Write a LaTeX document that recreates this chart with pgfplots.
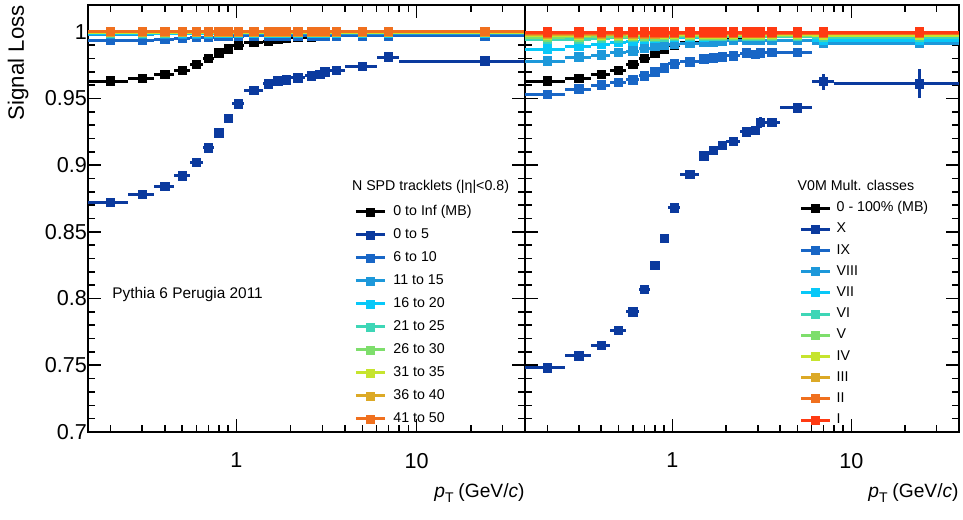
\documentclass[border=0pt]{standalone}
\usepackage{pgfplots}
\pgfplotsset{compat=1.18}
\usepackage{pgfplotstable}
\usepackage{fontspec}
\setmainfont{Liberation Sans}

\definecolor{cA}{HTML}{0B3A9E}
\definecolor{cB}{HTML}{1866C6}
\definecolor{cC}{HTML}{1D98DA}
\definecolor{cD}{HTML}{08C8F8}
\definecolor{cE}{HTML}{3ED6B6}
\definecolor{cF}{HTML}{7EDE6C}
\definecolor{cG}{HTML}{C6E42E}
\definecolor{cH}{HTML}{DCA926}
\definecolor{cI}{HTML}{F0701E}
\definecolor{cJ}{HTML}{FF3A12}

\pgfplotstableread{
x     exm   exp   mb     n05    e05    n610   n1115  n1620  n2125  n2630  n3135  n3640  n4150
0.2   0.05  0.05  0.963  0.872  0.0008 0.9933 0.9982 0.9989 0.9992 0.9994 0.9996 0.9998 1.0000
0.3   0.05  0.05  0.965  0.878  0.0008 0.9933 0.9982 0.9989 0.9992 0.9994 0.9996 0.9998 1.0000
0.4   0.05  0.05  0.968  0.884  0.0008 0.9942 0.9983 0.9989 0.9992 0.9994 0.9996 0.9998 1.0000
0.5   0.05  0.05  0.971  0.892  0.0008 0.9950 0.9983 0.9990 0.9993 0.9995 0.9997 0.9998 1.0000
0.6   0.05  0.05  0.9755 0.902  0.0008 0.9955 0.9984 0.9990 0.9993 0.9995 0.9997 0.9998 1.0000
0.7   0.05  0.05  0.980  0.913  0.0008 0.9960 0.9984 0.9990 0.9993 0.9995 0.9997 0.9998 1.0000
0.8   0.05  0.05  0.984  0.924  0.0008 0.9963 0.9985 0.9990 0.9993 0.9995 0.9997 0.9998 1.0000
0.9   0.05  0.05  0.987  0.935  0.0008 0.9965 0.9985 0.9990 0.9993 0.9995 0.9997 0.9998 1.0000
1.025 0.075 0.075 0.990  0.946  0.0008 0.9967 0.9985 0.9991 0.9993 0.9995 0.9997 0.9998 1.0000
1.25  0.15  0.15  0.992  0.956  0.0008 0.9968 0.9985 0.9991 0.9993 0.9995 0.9997 0.9998 1.0000
1.5   0.1   0.1   0.993  0.961  0.0008 0.9969 0.9986 0.9991 0.9994 0.9995 0.9997 0.9998 1.0000
1.7   0.1   0.1   0.9943 0.963  0.0008 0.9969 0.9986 0.9991 0.9994 0.9995 0.9997 0.9998 1.0000
1.9   0.1   0.1   0.9948 0.964  0.0008 0.9969 0.9986 0.9991 0.9994 0.9995 0.9997 0.9998 1.0000
2.2   0.2   0.2   0.9955 0.9655 0.0008 0.9969 0.9986 0.9991 0.9994 0.9995 0.9997 0.9998 1.0000
2.6   0.2   0.2   0.9960 0.967  0.0010 0.9969 0.9986 0.9991 0.9994 0.9995 0.9997 0.9998 1.0000
2.9   0.1   0.1   0.9963 0.968  0.0012 0.9969 0.9986 0.9991 0.9994 0.9995 0.9997 0.9998 1.0000
3.1   0.1   0.1   0.9965 0.970  0.0012 0.9969 0.9986 0.9991 0.9994 0.9995 0.9997 0.9998 1.0000
3.6   0.4   0.4   0.9968 0.971  0.0010 0.9969 0.9986 0.9991 0.9994 0.9995 0.9997 0.9998 1.0000
5     1     1     0.9970 0.974  0.0012 0.9968 0.9986 0.9991 0.9994 0.9995 0.9997 0.9998 1.0000
7     1     1     0.9970 0.981  0.0020 0.9968 0.9986 0.9991 0.9994 0.9995 0.9997 0.9998 1.0000
24    16    16    0.9970 0.978  0.0040 0.9968 0.9986 0.9991 0.9994 0.9995 0.9997 0.9998 1.0000
}\leftdata

\pgfplotstableread{
x     exm   exp   mb     vX     eX     vIX    vVIII  vVII   vVI    vV     vIV    vIII   vII    vI
0.2   0.05  0.05  0.963  0.748  0.0010 0.953  0.978  0.987  0.994  0.996  0.9975 0.998  0.999  0.9997
0.3   0.05  0.05  0.965  0.757  0.0010 0.957  0.981  0.989  0.9945 0.9962 0.9975 0.998  0.999  0.9997
0.4   0.05  0.05  0.968  0.765  0.0010 0.960  0.9825 0.9905 0.995  0.9964 0.9976 0.9981 0.999  0.9997
0.5   0.05  0.05  0.971  0.776  0.0010 0.962  0.9845 0.992  0.9953 0.9966 0.9977 0.9982 0.999  0.9997
0.6   0.05  0.05  0.9755 0.790  0.0010 0.964  0.9855 0.993  0.9956 0.9967 0.9977 0.9983 0.999  0.9997
0.7   0.05  0.05  0.980  0.807  0.0010 0.967  0.9876 0.994  0.9958 0.9968 0.9978 0.9984 0.999  0.9997
0.8   0.05  0.05  0.984  0.825  0.0010 0.970  0.9888 0.995  0.996  0.9969 0.9978 0.9984 0.999  0.9997
0.9   0.05  0.05  0.987  0.845  0.0010 0.973  0.9896 0.9955 0.9962 0.997  0.9979 0.9985 0.999  0.9997
1.025 0.075 0.075 0.990  0.868  0.0010 0.976  0.9906 0.9958 0.9964 0.997  0.9979 0.9985 0.999  0.9997
1.25  0.15  0.15  0.992  0.893  0.0010 0.9775 0.9913 0.996  0.9965 0.997  0.998  0.9985 0.999  0.9997
1.5   0.1   0.1   0.993  0.907  0.0010 0.9795 0.9918 0.9962 0.9966 0.9972 0.998  0.9986 0.999  0.9997
1.7   0.1   0.1   0.9943 0.911  0.0015 0.9805 0.9923 0.9963 0.9966 0.9972 0.998  0.9986 0.999  0.9997
1.9   0.1   0.1   0.9948 0.915  0.0015 0.981  0.9928 0.9964 0.9966 0.9972 0.998  0.9986 0.999  0.9997
2.2   0.2   0.2   0.9955 0.918  0.0015 0.982  0.9933 0.9964 0.9966 0.9972 0.998  0.9986 0.999  0.9997
2.6   0.2   0.2   0.9960 0.925  0.0020 0.984  0.9935 0.9964 0.9966 0.9972 0.998  0.9986 0.999  0.9997
2.9   0.1   0.1   0.9963 0.926  0.0020 0.983  0.9935 0.9964 0.9966 0.9972 0.998  0.9986 0.999  0.9997
3.1   0.1   0.1   0.9965 0.932  0.0040 0.984  0.9935 0.9964 0.9966 0.9972 0.998  0.9986 0.999  0.9997
3.6   0.4   0.4   0.9968 0.932  0.0020 0.9846 0.9935 0.9964 0.9966 0.9972 0.998  0.9986 0.999  0.9997
5     1     1     0.9970 0.943  0.0020 0.9846 0.9935 0.9964 0.9966 0.9972 0.998  0.9986 0.999  0.9997
7     1     1     0.9970 0.9626 0.0060 nan    0.991  0.9935 0.996  0.997  0.9975 0.9985 0.999  0.9997
24    16    16    0.9970 0.961  0.0110 nan    0.991  0.9935 0.996  0.997  0.9975 0.9985 0.999  0.9997
}\rightdata

\newcommand{\lfont}{\fontsize{10.8}{12}\selectfont}
\newcommand{\sfont}{\fontsize{7.1}{8.5}\selectfont}

\pgfplotsset{
  every axis/.append style={
    scale only axis, height=213.5pt,
    xmode=log, xmin=0.15, xmax=40, ymin=0.7, ymax=1.02,
    xtick={1,10}, xticklabels={1,10},
    minor xtick={0.2,0.3,0.4,0.5,0.6,0.7,0.8,0.9,2,3,4,5,6,7,8,9,20,30,40},
    ytick={0.7,0.75,0.8,0.85,0.9,0.95,1},
    minor y tick num=4,
    tick align=inside, tick pos=both,
    major tick length=6.5pt, minor tick length=3.5pt,
    axis line style={line width=1pt},
    every tick/.append style={line width=0.8pt, black},
    tick label style={font=\lfont},
    xticklabel style={yshift=-7pt},
    yticklabel style={xshift=3pt},
    xlabel={{\itshape p}\raisebox{-0.55ex}{\fontsize{7}{8}\selectfont T}\hspace{0.25em}(GeV/{\itshape c})},
    xlabel style={at={(axis description cs:1,-0.143)}, anchor=east, inner sep=0pt, font=\fontsize{9.6}{12}\selectfont},
    legend cell align=left,
  },
  every axis plot/.append style={only marks, mark=square*, mark size=2.1pt, mark options={solid},
    error bars/x dir=both, error bars/x explicit, error bars/error mark=none,
    error bars/error bar style={line width=1.5pt, solid}},
  legend image code/.code={
    \draw[line width=1.5pt] (0pt,0pt) -- (14.5pt,0pt);
    \fill (5.25pt,-2pt) rectangle (9.25pt,2pt);
  },
}

\begin{document}
\begin{tikzpicture}
\begin{axis}[width=218.5pt,
  yticklabels={0.7,0.75,0.8,0.85,0.9,0.95,1},
  ylabel={Signal Loss},
  ylabel style={at={(axis description cs:-0.160,1.0)}, anchor=east, inner sep=0pt, font=\fontsize{11.1}{12}\selectfont},
  legend style={at={(axis description cs:0.6087,0.5323)}, anchor=north west, draw=none, fill=none,
    font=\sfont, inner sep=0pt, row sep=4.7pt, column sep=3.5pt,
    nodes={inner sep=0pt, text height=5.2pt, text depth=1.6pt}},
]
\addplot[color=black] table[x=x, y=mb, x error minus=exm, x error plus=exp] {\leftdata};
\addlegendentry{0 to Inf (MB)}
\addplot[color=cA, error bars/y dir=both, error bars/y explicit] table[x=x, y=n05, x error minus=exm, x error plus=exp, y error=e05] {\leftdata};
\addlegendentry{0 to 5}
\addplot[color=cB] table[x=x, y=n610, x error minus=exm, x error plus=exp] {\leftdata};
\addlegendentry{6 to 10}
\addplot[color=cC] table[x=x, y=n1115, x error minus=exm, x error plus=exp] {\leftdata};
\addlegendentry{11 to 15}
\addplot[color=cD] table[x=x, y=n1620, x error minus=exm, x error plus=exp] {\leftdata};
\addlegendentry{16 to 20}
\addplot[color=cE] table[x=x, y=n2125, x error minus=exm, x error plus=exp] {\leftdata};
\addlegendentry{21 to 25}
\addplot[color=cF] table[x=x, y=n2630, x error minus=exm, x error plus=exp] {\leftdata};
\addlegendentry{26 to 30}
\addplot[color=cG] table[x=x, y=n3135, x error minus=exm, x error plus=exp] {\leftdata};
\addlegendentry{31 to 35}
\addplot[color=cH] table[x=x, y=n3640, x error minus=exm, x error plus=exp] {\leftdata};
\addlegendentry{36 to 40}
\addplot[color=cI] table[x=x, y=n4150, x error minus=exm, x error plus=exp] {\leftdata};
\addlegendentry{41 to 50}
\node[anchor=west, inner sep=0pt, font=\sfont] at (axis description cs:0.6034,0.5745) {N SPD tracklets (|η|<0.8)};
\node[anchor=west, inner sep=0pt, font=\fontsize{7.7}{9}\selectfont] at (axis description cs:0.055,0.321) {Pythia 6 Perugia 2011};
\end{axis}

\begin{axis}[at={(218.5pt,0pt)}, width=217pt,
  yticklabels={},
  legend style={at={(axis description cs:0.632,0.5413)}, anchor=north west, draw=none, fill=none,
    font=\sfont, inner sep=0pt, row sep=3.8pt, column sep=2.5pt,
    nodes={inner sep=0pt, text height=5.2pt, text depth=1.6pt}},
]
\addplot[color=black] table[x=x, y=mb, x error minus=exm, x error plus=exp] {\rightdata};
\addlegendentry{0 - 100\% (MB)}
\addplot[color=cA, error bars/y dir=both, error bars/y explicit] table[x=x, y=vX, x error minus=exm, x error plus=exp, y error=eX] {\rightdata};
\addlegendentry{X}
\addplot[color=cB] table[x=x, y=vIX, x error minus=exm, x error plus=exp] {\rightdata};
\addlegendentry{IX}
\addplot[color=cC] table[x=x, y=vVIII, x error minus=exm, x error plus=exp] {\rightdata};
\addlegendentry{VIII}
\addplot[color=cD] table[x=x, y=vVII, x error minus=exm, x error plus=exp] {\rightdata};
\addlegendentry{VII}
\addplot[color=cE] table[x=x, y=vVI, x error minus=exm, x error plus=exp] {\rightdata};
\addlegendentry{VI}
\addplot[color=cF] table[x=x, y=vV, x error minus=exm, x error plus=exp] {\rightdata};
\addlegendentry{V}
\addplot[color=cG] table[x=x, y=vIV, x error minus=exm, x error plus=exp] {\rightdata};
\addlegendentry{IV}
\addplot[color=cH] table[x=x, y=vIII, x error minus=exm, x error plus=exp] {\rightdata};
\addlegendentry{III}
\addplot[color=cI] table[x=x, y=vII, x error minus=exm, x error plus=exp] {\rightdata};
\addlegendentry{II}
\addplot[color=cJ] table[x=x, y=vI, x error minus=exm, x error plus=exp] {\rightdata};
\addlegendentry{I}
\node[anchor=west, inner sep=0pt, font=\sfont] at (axis description cs:0.6274,0.5785) {V0M Mult. classes};
\end{axis}
\pgfresetboundingbox
\path[use as bounding box] (-44pt,-43.5pt) rectangle (437.5pt,216pt);
\end{tikzpicture}
\end{document}
